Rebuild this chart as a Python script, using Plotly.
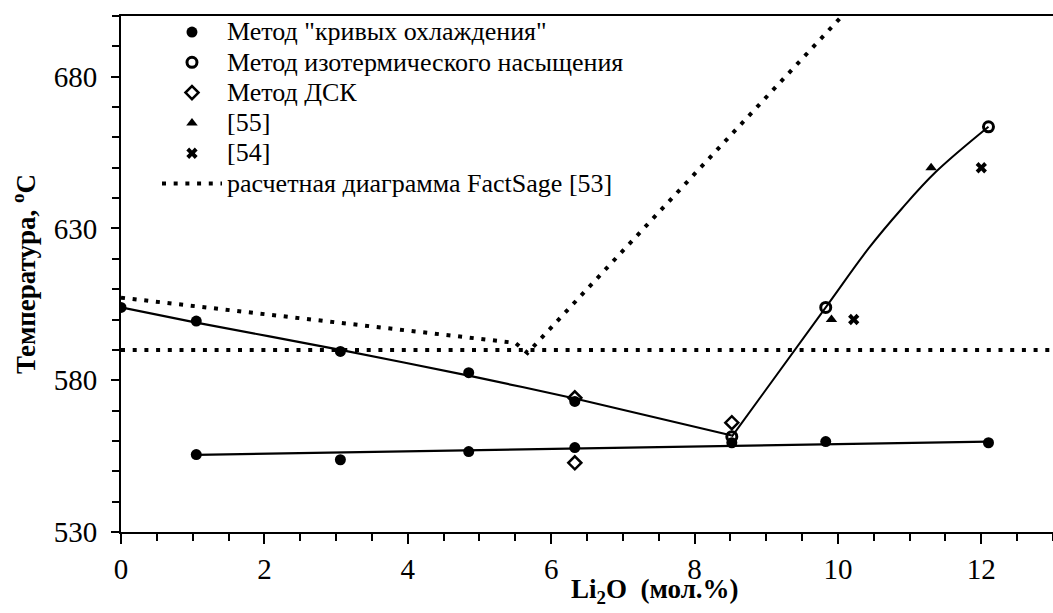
import plotly.graph_objects as go

FONT = "Liberation Serif"

# --- measured points -------------------------------------------------------
# cooling-curve method: liquidus branch and eutectic level
cool_liq_x = [0.0, 1.05, 3.06, 4.85, 6.33]
cool_liq_y = [604.0, 599.5, 589.5, 582.5, 573.0]
cool_eut_x = [1.05, 3.06, 4.85, 6.33, 8.52, 9.83, 12.1]
cool_eut_y = [555.5, 553.8, 556.5, 557.8, 559.4, 559.8, 559.4]

# isothermal saturation method
iso_x = [8.52, 9.83, 12.1]
iso_y = [561.4, 604.0, 663.5]

# DSC method
dsc_x = [6.33, 8.52, 6.33]
dsc_y = [574.2, 566.0, 552.8]

# literature data
ref55_x = [9.91, 11.3]
ref55_y = [600.0, 650.0]
ref54_x = [10.22, 12.0]
ref54_y = [600.0, 650.0]

# --- trend curves ----------------------------------------------------------
liq_fit_x = [0.0, 1.05, 3.06, 4.85, 6.33, 8.52]
liq_fit_y = [604.0, 599.0, 590.0, 581.5, 574.0, 561.8]
eut_fit_x = [1.05, 12.1]
eut_fit_y = [555.4, 559.8]
sat_fit_x = [8.52, 9.83, 10.43, 10.89, 11.36, 12.1]
sat_fit_y = [561.4, 604.0, 623.5, 636.5, 648.5, 663.5]

# FactSage calculated diagram
fs_liq_x = [0.0, 2.8, 4.55, 5.5, 5.67, 10.2]
fs_liq_y = [607.2, 599.7, 595.0, 592.3, 589.0, 703.6]
fs_eut_x = [0.0, 13.0]
fs_eut_y = [590.0, 590.0]

# legend labels
lbl_cool = 'Метод "кривых охлаждения"'
lbl_iso = "Метод изотермического насыщения"
lbl_dsc = "Метод ДСК"
lbl_55 = "[55]"
lbl_54 = "[54]"
lbl_fs = "расчетная диаграмма FactSage [53]"


def big(s):
    return f"<span style='font-size:26px'>{s}</span>"


DOT = "4px,7.7px"
fig = go.Figure()

# calculated (dotted) curves
fig.add_trace(go.Scatter(x=fs_eut_x, y=fs_eut_y, mode="lines", showlegend=False,
                         line=dict(color="black", width=4, dash=DOT)))
fig.add_trace(go.Scatter(x=fs_liq_x, y=fs_liq_y, mode="lines", showlegend=False,
                         line=dict(color="black", width=4, dash=DOT)))

# fitted solid curves
fig.add_trace(go.Scatter(x=liq_fit_x, y=liq_fit_y, mode="lines", showlegend=False,
                         line=dict(color="black", width=2.2, shape="spline", smoothing=0.6)))
fig.add_trace(go.Scatter(x=eut_fit_x, y=eut_fit_y, mode="lines", showlegend=False,
                         line=dict(color="black", width=2.2)))
fig.add_trace(go.Scatter(x=sat_fit_x, y=sat_fit_y, mode="lines", showlegend=False,
                         line=dict(color="black", width=2, shape="spline", smoothing=1)))

# markers
fig.add_trace(go.Scatter(x=cool_liq_x + cool_eut_x, y=cool_liq_y + cool_eut_y, mode="markers",
                         name=big(lbl_cool), marker=dict(symbol="circle", size=11, color="black")))
fig.add_trace(go.Scatter(x=iso_x, y=iso_y, mode="markers", name=big(lbl_iso),
                         marker=dict(symbol="circle-open", size=10, color="black",
                                     line=dict(width=3, color="black"))))
fig.add_trace(go.Scatter(x=dsc_x, y=dsc_y, mode="markers", name=big(lbl_dsc),
                         marker=dict(symbol="diamond-open", size=10, color="black",
                                     line=dict(width=2.5, color="black"))))
fig.add_trace(go.Scatter(x=ref55_x, y=ref55_y, mode="markers", name=big(lbl_55),
                         marker=dict(symbol="triangle-up", size=10, color="black")))
fig.add_trace(go.Scatter(x=ref54_x, y=ref54_y, mode="markers", name=big(lbl_54),
                         marker=dict(symbol="x", size=10, color="black",
                                     line=dict(width=0))))
# legend entry for the calculated diagram
fig.add_trace(go.Scatter(x=[None], y=[None], mode="lines", name=big(lbl_fs),
                         line=dict(color="black", width=4, dash=DOT)))

fig.update_layout(
    width=1053, height=613,
    margin=dict(l=121, r=0, t=16, b=81),
    paper_bgcolor="white", plot_bgcolor="white",
    font=dict(family=FONT, color="black"),
    showlegend=True,
    legend=dict(x=0.0386, y=1.008, xanchor="left", yanchor="top",
                font=dict(family=FONT, size=21, color="black"),
                itemwidth=60, bgcolor="rgba(0,0,0,0)", tracegroupgap=0),
    xaxis=dict(range=[0, 13], showgrid=False, zeroline=False,
               showline=True, linecolor="black", linewidth=2, mirror=True,
               ticks="outside", ticklen=10, tickwidth=2, tickcolor="black",
               tick0=0, dtick=2, ticklabelstandoff=0,
               tickfont=dict(family=FONT, size=29, color="black"),
               minor=dict(ticks="outside", ticklen=7, tickwidth=2, tickcolor="black", dtick=0.5)),
    yaxis=dict(range=[530, 700], showgrid=False, zeroline=False,
               showline=True, linecolor="black", linewidth=2,
               ticks="outside", ticklen=8, tickwidth=2, tickcolor="black",
               tick0=530, dtick=50, ticklabelstandoff=8,
               tickfont=dict(family=FONT, size=29, color="black"),
               minor=dict(ticks="outside", ticklen=7, tickwidth=2, tickcolor="black", dtick=10)),
    annotations=[
        dict(text="<b>Li<sub>2</sub>O\u00a0\u00a0(мол.%)</b>", xref="paper", yref="paper",
             x=0.573, y=-0.115, xanchor="center", yanchor="middle", showarrow=False,
             font=dict(family=FONT, size=27, color="black")),
        dict(text="<b>Температура, <sup>o</sup>C</b>", xref="paper", yref="paper",
             x=-0.104, y=0.5, xanchor="center", yanchor="middle", textangle=-90,
             showarrow=False, font=dict(family=FONT, size=27, color="black")),
    ],
)

# keep every SVG text in the serif face once the plot is drawn
serif_js = """
var gd = document.getElementById('{plot_id}');
gd.querySelectorAll('text').forEach(function(t) {
    t.style.fontFamily = "'Liberation Serif', 'Times New Roman', serif";
});
"""

fig.write_html("out.html", post_script=serif_js)
